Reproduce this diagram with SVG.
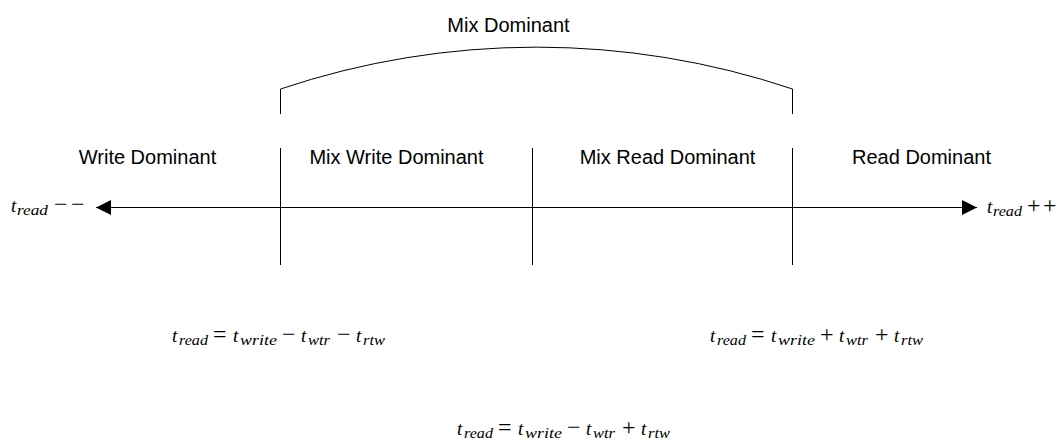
<svg xmlns="http://www.w3.org/2000/svg" width="1060" height="439" viewBox="0 0 1060 439">
  <style>
    .lbl { font-family: "Liberation Sans", Arial, sans-serif; font-size: 20px; fill: #000; text-anchor: middle; }
    .math { font-family: "Liberation Serif", "Times New Roman", serif; font-size: 19px; fill: #000; }
    .v { font-style: italic; }
    .s { font-style: italic; font-size: 14px; }
    .op { font-style: normal; font-size: 24px; }
    .ln { stroke: #000; stroke-width: 1; fill: none; }
  </style>
  <defs>
    <marker id="arrow" viewBox="0 0 10 10" refX="10" refY="5" markerWidth="15" markerHeight="17" markerUnits="userSpaceOnUse" orient="auto-start-reverse">
      <path d="M0,0 L10,5 L0,10 z" fill="#000"/>
    </marker>
  </defs>
  <rect width="1060" height="439" fill="#fff"/>

  <!-- axis, boundaries and the bracket over the mixed region -->
  <g id="connectors">
    <line class="ln" x1="96" y1="207.5" x2="977" y2="207.5" marker-start="url(#arrow)" marker-end="url(#arrow)"/>
    <line class="ln" x1="280.5" y1="148" x2="280.5" y2="265"/>
    <line class="ln" x1="532.5" y1="148" x2="532.5" y2="265"/>
    <line class="ln" x1="792.5" y1="148" x2="792.5" y2="265"/>
    <path class="ln" d="M280.5,114 L280.5,89 A804,804 0 0 1 792.5,89 L792.5,114"/>
  </g>

  <g id="mix-dominant"><text class="lbl" x="508.5" y="32">Mix Dominant</text></g>
  <g id="write-dominant"><text class="lbl" x="147.5" y="164">Write Dominant</text></g>
  <g id="mix-write-dominant"><text class="lbl" x="396.5" y="164">Mix Write Dominant</text></g>
  <g id="mix-read-dominant"><text class="lbl" x="667.5" y="164">Mix Read Dominant</text></g>
  <g id="read-dominant"><text class="lbl" x="921.5" y="164">Read Dominant</text></g>

  <g id="axis-left">
    <text class="math" y="212"><tspan class="v" x="11">t</tspan><tspan class="s" x="17" dy="3" textLength="31" lengthAdjust="spacingAndGlyphs">read</tspan><tspan class="op" x="54" dy="-3">−</tspan><tspan class="op" x="71">−</tspan></text>
  </g>
  <g id="axis-right">
    <text class="math" y="213"><tspan class="v" x="987">t</tspan><tspan class="s" x="993" dy="3" textLength="29" lengthAdjust="spacingAndGlyphs">read</tspan><tspan class="op" x="1027" dy="-3">+</tspan><tspan class="op" x="1043">+</tspan></text>
  </g>

  <g id="eq-write">
    <text class="math" y="342"><tspan class="v" x="172">t</tspan><tspan class="s" x="179" dy="3" textLength="29" lengthAdjust="spacingAndGlyphs">read</tspan><tspan class="op" x="213" dy="-3">=</tspan><tspan class="v" x="233">t</tspan><tspan class="s" x="240" dy="3" textLength="37" lengthAdjust="spacingAndGlyphs">write</tspan><tspan class="op" x="282" dy="-3">−</tspan><tspan class="v" x="301">t</tspan><tspan class="s" x="308" dy="3" textLength="22" lengthAdjust="spacingAndGlyphs">wtr</tspan><tspan class="op" x="337" dy="-3">−</tspan><tspan class="v" x="356">t</tspan><tspan class="s" x="363" dy="3" textLength="22" lengthAdjust="spacingAndGlyphs">rtw</tspan></text>
  </g>
  <g id="eq-read">
    <text class="math" y="342"><tspan class="v" x="710">t</tspan><tspan class="s" x="717" dy="3" textLength="29" lengthAdjust="spacingAndGlyphs">read</tspan><tspan class="op" x="751" dy="-3">=</tspan><tspan class="v" x="771">t</tspan><tspan class="s" x="778" dy="3" textLength="37" lengthAdjust="spacingAndGlyphs">write</tspan><tspan class="op" x="820" dy="-3">+</tspan><tspan class="v" x="839">t</tspan><tspan class="s" x="846" dy="3" textLength="22" lengthAdjust="spacingAndGlyphs">wtr</tspan><tspan class="op" x="875" dy="-3">+</tspan><tspan class="v" x="894">t</tspan><tspan class="s" x="901" dy="3" textLength="22" lengthAdjust="spacingAndGlyphs">rtw</tspan></text>
  </g>
  <g id="eq-mix">
    <text class="math" y="435"><tspan class="v" x="457">t</tspan><tspan class="s" x="464" dy="3" textLength="29" lengthAdjust="spacingAndGlyphs">read</tspan><tspan class="op" x="498" dy="-3">=</tspan><tspan class="v" x="518">t</tspan><tspan class="s" x="525" dy="3" textLength="37" lengthAdjust="spacingAndGlyphs">write</tspan><tspan class="op" x="567" dy="-3">−</tspan><tspan class="v" x="586">t</tspan><tspan class="s" x="593" dy="3" textLength="22" lengthAdjust="spacingAndGlyphs">wtr</tspan><tspan class="op" x="622" dy="-3">+</tspan><tspan class="v" x="641">t</tspan><tspan class="s" x="648" dy="3" textLength="22" lengthAdjust="spacingAndGlyphs">rtw</tspan></text>
  </g>
</svg>
